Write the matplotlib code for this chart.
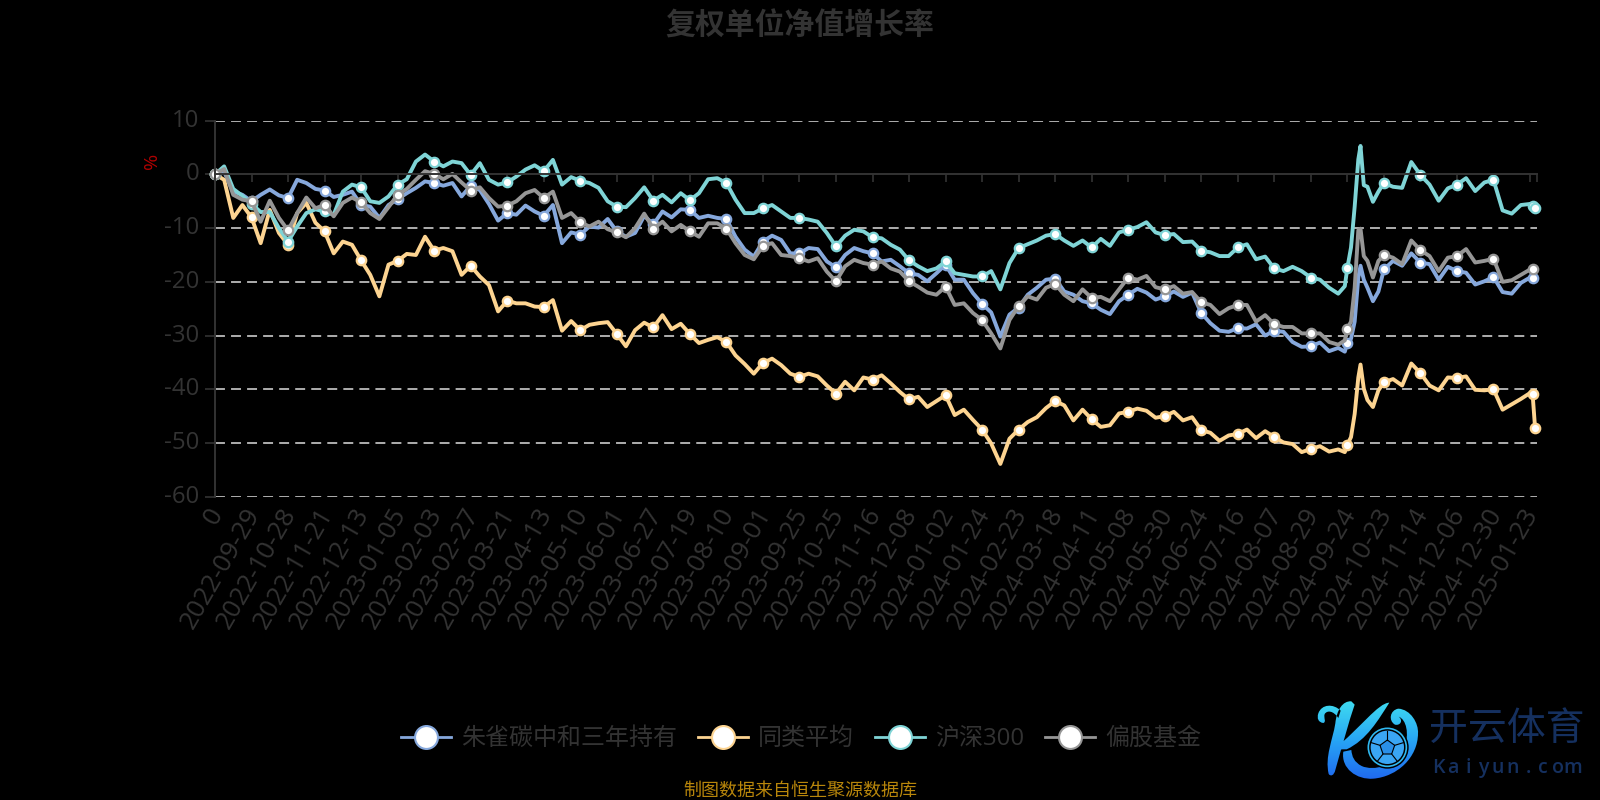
# coding:utf-8
import matplotlib
matplotlib.use("Agg")
import matplotlib.pyplot as plt
import numpy as np
from matplotlib.lines import Line2D
from matplotlib.patches import Circle, PathPatch, Polygon
from matplotlib.path import Path
from matplotlib.colors import LinearSegmentedColormap
from matplotlib.transforms import ScaledTranslation

plt.rcParams['font.family'] = ['Open Sans', 'Noto Sans CJK SC', 'DejaVu Sans']
plt.rcParams['axes.unicode_minus'] = False

tick_labels = ['0', '2022-09-29', '2022-10-28', '2022-11-21', '2022-12-13', '2023-01-05', '2023-02-03',
               '2023-02-27', '2023-03-21', '2023-04-13', '2023-05-10', '2023-06-01', '2023-06-27',
               '2023-07-19', '2023-08-10', '2023-09-01', '2023-09-25', '2023-10-25', '2023-11-16',
               '2023-12-08', '2024-01-02', '2024-01-24', '2024-02-23', '2024-03-18', '2024-04-11',
               '2024-05-08', '2024-05-30', '2024-06-24', '2024-07-16', '2024-08-07', '2024-08-29',
               '2024-09-24', '2024-10-23', '2024-11-14', '2024-12-06', '2024-12-30', '2025-01-23']
y_ticks = [10, 0, -10, -20, -30, -40, -50, -60]
series_names = ['朱雀碳中和三年持有', '同类平均', '沪深300', '偏股基金']

# 横轴位置，单位是一个刻度间隔，9月底的急涨处取得密一些
x_pos = np.concatenate([np.arange(0, 31, 0.25), [30.93, 31, 31.1, 31.2, 31.3, 31.36, 31.45, 31.55, 31.7, 31.85],
                        np.arange(32, 36, 0.25), [36, 36.07, 36.14]])

# 每行对应一个刻度
fund = [0, 0.5, -3.2, -3.8,
        -5, -3.8, -2.8, -3.9,
        -4.4, -1, -1.6, -2.7,
        -3, -4.2, -3.8, -3.2,
        -5.7, -6, -8.1, -5.7,
        -4.6, -3.5, -2.5, -1.3,
        -1.6, -2.1, -1.6, -4.1,
        -2.1, -2.9, -5.5, -8.6,
        -7.2, -7.5, -5.8, -6.9,
        -7.7, -5.7, -12.8, -10.8,
        -11.2, -9.7, -9.9, -8.3,
        -10.6, -11.6, -10.9, -7.7,
        -9.3, -6.9, -8, -6.5,
        -6.6, -8.1, -7.7, -8.1,
        -8.3, -11.6, -14, -15.3,
        -12.5, -11.4, -12.2, -14.7,
        -14.7, -13.7, -13.9, -16.2,
        -17.3, -15, -13.7, -14.3,
        -14.7, -16.2, -15.9, -17.1,
        -18.4, -18.7, -19.9, -18.4,
        -16.8, -19.6, -19.6, -22.1,
        -24.1, -25.7, -30.2, -26.1,
        -24.8, -22.4, -21.1, -19.6,
        -19.4, -21.8, -22.4, -23.6,
        -24, -25.2, -26, -23.6,
        -22.4, -21.3, -22, -23.3,
        -22.7, -21.8, -22.8, -22,
        -25.8, -27.7, -29.1, -29.3,
        -28.6, -28.7, -27.9, -30,
        -29.1, -29.3, -31.2, -32.1,
        -32, -31.3, -32.9, -32.3,
        -33,
        -31.3, -30.6, -27.4, -19.2, -17, -19.6, -21.1, -23.6, -21.8,
        -17.7, -16.1, -17, -14.7,
        -16.4, -16.7, -19.6, -17.2,
        -18, -18.3, -20.5, -19.9,
        -19.1, -21.9, -22.2, -20.2,
        -19.2, -19.2, np.nan]
peer_avg = [0, -1, -8.1, -5.7,
            -8, -12.8, -6.6, -10.9,
            -13.1, -7.2, -5.3, -9,
            -10.6, -14.7, -12.5, -13.1,
            -16, -18.7, -22.7, -16.8,
            -16.1, -14.8, -15, -11.6,
            -14.2, -13.7, -14.3, -18.7,
            -17, -19, -20.6, -25.5,
            -23.5, -24, -24, -24.6,
            -24.7, -23.4, -29.1, -27.3,
            -29, -28, -27.7, -27.5,
            -29.7, -32, -29, -27.6,
            -28.5, -26.2, -28.8, -27.8,
            -29.7, -31.4, -30.8, -30.3,
            -31.2, -33.7, -35.3, -37.1,
            -35.1, -34.3, -35.5, -37.1,
            -37.7, -37.1, -37.6, -39.3,
            -40.8, -38.6, -40.2, -37.8,
            -38.2, -37.4, -38.9, -40.5,
            -41.9, -41.4, -43.3, -42.2,
            -41.1, -44.8, -43.8, -45.7,
            -47.5, -50.1, -53.9, -49.2,
            -47.5, -46.1, -45.2, -43.5,
            -42.2, -43, -45.8, -43.8,
            -45.6, -47, -46.7, -44.5,
            -44.2, -43.6, -44, -45.3,
            -45, -44.2, -45.8, -45.2,
            -47.6, -48.1, -49.6, -48.6,
            -48.3, -47.5, -49.1, -47.8,
            -48.9, -49.9, -50.2, -51.7,
            -51.1, -50.6, -51.6, -51.2,
            -51.7,
            -50.3, -48.9, -44.6, -37.8, -35.4, -39.9, -42, -43.3, -40.2,
            -38.7, -38.1, -39.3, -35.2,
            -37, -39.3, -40.2, -37.8,
            -37.9, -37.6, -40.1, -40.2,
            -40, -43.8, -42.8, -41.8,
            -40.7, -40.8, -47.3]
csi300 = [0, 1.5, -2.7, -4,
          -5.5, -7, -7, -10,
          -12.5, -9.7, -7.2, -6.5,
          -6.9, -7.5, -3.2, -1.9,
          -2.4, -5, -5.3, -4.1,
          -1.9, -0.9, 2.4, 3.7,
          2.4, 1.5, 2.4, 2.1,
          -0.1, 2.1, -1, -1.9,
          -1.5, -0.4, 0.9, 1.7,
          0.6, 2.7, -1.9, -0.5,
          -1.2, -1.6, -2.5, -5,
          -6, -6.1, -4.4, -2.4,
          -4.9, -3.8, -5.2, -3.5,
          -4.8, -3.5, -0.9, -0.7,
          -1.6, -4.7, -7.2, -7.2,
          -6.3, -5.7, -6.9, -8.1,
          -8.1, -8.4, -8.8, -10.9,
          -13.4, -11.4, -10.3, -10.6,
          -11.7, -11.9, -13.1, -14,
          -16, -17.1, -18, -17.5,
          -16.2, -18.4, -18.7, -19,
          -19, -18, -21.4, -16.5,
          -13.7, -13, -12.3, -11.4,
          -11.1, -12.3, -13.3, -12.3,
          -13.6, -12, -13.3, -10.8,
          -10.3, -9.8, -8.9, -10.8,
          -11.3, -11.1, -12.6, -12.5,
          -14.2, -14.5, -15.2, -15.2,
          -13.6, -13, -15.8, -15.3,
          -17.5, -18, -17.2, -18,
          -19.2, -19.6, -21.1, -22.2,
          -20.8,
          -17.4, -13.6, -6, 2.8, 5.3, -2, -2.3, -5.1, -3.2,
          -1.6, -2.3, -2.5, 2.3,
          -0.1, -1.9, -4.9, -2.6,
          -1.9, -0.7, -3.1, -1.5,
          -1, -6.7, -7.3, -5.7,
          -5.5, -5.9, -6.2]
equity_funds = [0, 1, -3.8, -4.7,
                -5, -8.8, -4.9, -8.1,
                -10.4, -7.2, -4.3, -6.3,
                -5.7, -7.8, -5.3, -4.3,
                -5.2, -7.2, -8.3, -6.1,
                -3.8, -2.7, -1, 0.6,
                0.1, -0.9, 0.1, -1.5,
                -3, -2.4, -4.4, -6,
                -5.8, -5, -3.5, -2.9,
                -4.4, -3.2, -8.1, -7.2,
                -8.9, -9.7, -8.8, -10.2,
                -10.8, -11.7, -10, -7.3,
                -10.1, -8.8, -10.6, -9.4,
                -10.6, -11.6, -9.1, -9.1,
                -10.1, -12.8, -15, -15.8,
                -13.3, -12.8, -15, -15.2,
                -15.6, -16.2, -15.6, -18.1,
                -19.9, -17.1, -15.9, -16.5,
                -16.8, -16.2, -17.5, -18.1,
                -19.9, -20.9, -22, -22.4,
                -20.9, -24.3, -24, -25.8,
                -27.1, -29.6, -32.4, -27.1,
                -24.5, -22.7, -23.3, -21.1,
                -20.4, -22.4, -23.6, -21.4,
                -23, -22.8, -23.6, -21.4,
                -19.2, -19.6, -18.9, -21,
                -21.4, -20.8, -22.2, -21.9,
                -23.8, -24.3, -26, -24.9,
                -24.3, -24.3, -27.4, -26.2,
                -27.9, -28.4, -28.4, -29.6,
                -29.6, -29.6, -31.2, -31.7,
                -30.9,
                -28.7, -27.4, -21.1, -10.4, -10.1, -15.2, -16.1, -19.2, -16.1,
                -15, -15.5, -16.7, -12.3,
                -14.1, -15.2, -18, -15.5,
                -15.2, -13.9, -16.4, -16.1,
                -15.7, -20, -19.7, -18.7,
                -17.7, -17.7, np.nan]

all_series = [fund, peer_avg, csi300, equity_funds]
colors = ['#86a8dc', '#fdd491', '#7fd4d6', '#969696']
TEXT_COLOR = '#333333'


def px(x, y):
    # 像素坐标转成figure坐标
    return x / 1600, 1 - y / 800


fig = plt.figure(figsize=(16, 8), dpi=100, facecolor='black')
left, right_end = 215, 1537
tick_step = (1530 - 215) / 36
x_end = (right_end - left) / tick_step
ax = fig.add_axes([left / 1600, 1 - 496.7 / 800, (right_end - left) / 1600, (496.7 - 120.7) / 800])
ax.set_facecolor('black')
ax.set_xlim(0, x_end)
ax.set_ylim(-60, 10)

for name, values, color in zip(series_names, all_series, colors):
    values = np.array(values, dtype=float)
    # 每个刻度一个圆点，末尾的点跟着最后的数据
    marks = [i for i, p in enumerate(x_pos) if p == int(p) and p < 36]
    marks += [i for i in (len(x_pos) - 2, len(x_pos) - 1) if not np.isnan(values[i])]
    ax.plot(x_pos, values, color=color, lw=2.8, label=name, marker='o', markevery=marks, ms=6.8,
            mfc='white', mec=color, mew=1.6, solid_joinstyle='round', clip_on=False)

for side in ['top', 'right']:
    ax.spines[side].set_visible(False)
ax.spines['bottom'].set_position(('data', 0))
ax.spines['bottom'].set_color(TEXT_COLOR)
ax.spines['bottom'].set_linewidth(1.4)
ax.spines['left'].set_color(TEXT_COLOR)
ax.spines['left'].set_linewidth(1.4)

ax.set_yticks(y_ticks)
ax.set_xticks(range(len(tick_labels)))
ax.set_xticks([x_end], minor=True)
ax.set_xticklabels(tick_labels, rotation=60, ha='right', va='top', rotation_mode='anchor')
ax.tick_params(axis='x', which='both', direction='out', length=5.8, width=1.2, color=TEXT_COLOR)
ax.tick_params(axis='x', which='major', labelcolor=TEXT_COLOR, labelsize=18.7, pad=231)
ax.tick_params(axis='y', direction='out', length=7.2, width=1.2, color=TEXT_COLOR,
               labelcolor=TEXT_COLOR, labelsize=17.3, pad=4)
for lab in ax.get_xticklabels():
    lab.set_transform(lab.get_transform() + ScaledTranslation(-0.08, 0, fig.dpi_scale_trans))
for lab in ax.get_yticklabels():
    lab.set_transform(lab.get_transform() + ScaledTranslation(0, 0.03, fig.dpi_scale_trans))

ax.set_axisbelow(True)
ax.yaxis.grid(True, color='#dddddd', lw=1.1, linestyle=(0, (6.5, 4)))
for tick_value, line in zip(y_ticks, ax.get_ygridlines()):
    if tick_value == 0:
        line.set_visible(False)

fig.text(*px(800, 27), '复权单位净值增长率', color=TEXT_COLOR, fontsize=21.5, fontweight='bold',
         ha='center', va='center')
fig.text(*px(152, 161), '%', color='#b00000', fontsize=14, rotation=90, ha='center', va='center')
fig.text(*px(800, 791), '制图数据来自恒生聚源数据库', color='#b8860b', fontsize=13, ha='center', va='center')

handles = [Line2D([], [], color=c, lw=2, marker='o', ms=16.5, mfc='white', mec=c, mew=1.5) for c in colors]
fig.legend(handles, series_names, loc='center', bbox_to_anchor=px(801, 739), ncols=4, frameon=False,
           fontsize=17.3, labelcolor=TEXT_COLOR, handlelength=2.1, handletextpad=0.42, columnspacing=0.85)

# 右下角的logo
logo = fig.add_axes([1310 / 1600, 1 - 790 / 800, 120 / 1600, 100 / 800])
logo.set_xlim(0, 360)
logo.set_ylim(300, 0)
logo.axis('off')
M, C, L, Z = Path.MOVETO, Path.CURVE4, Path.LINETO, Path.CLOSEPOLY
logo_shapes = [
    ([(124, 34), (98, 32), (80, 60), (76, 100), (68, 150), (44, 200), (56, 252), (62, 260), (72, 257), (76, 240),
      (90, 190), (118, 90), (134, 44), (124, 34)], [M] + [C] * 12 + [Z]),
    ([(25, 70), (35, 42), (70, 40), (92, 62), (85, 84), (70, 62), (52, 60), (44, 72), (40, 85), (50, 95), (40, 99),
      (25, 97), (20, 85), (25, 70), (25, 70)], [M, C, C, C, L, C, C, C, C, C, C, C, C, C, Z]),
    ([(238, 38), (205, 38), (150, 115), (72, 178), (110, 178), (170, 150), (205, 90), (238, 38), (238, 38)],
     [M, C, C, C, L, C, C, C, Z]),
    ([(100, 185), (92, 235), (140, 270), (190, 266), (262, 260), (324, 202), (324, 130), (326, 100), (302, 58),
      (265, 56), (240, 60), (234, 92), (255, 104), (272, 108), (280, 90), (266, 80), (288, 88), (300, 130),
      (282, 178), (258, 228), (190, 244), (155, 228), (132, 216), (126, 200), (124, 180), (100, 185)],
     [M] + [C] * 24 + [Z]),
]
logo_verts, logo_codes = [], []
for verts, codes in logo_shapes:
    logo_verts += verts
    logo_codes += codes
logo_cmap = LinearSegmentedColormap.from_list('logo', ['#3fdcf0', '#27a4f5', '#1f66ee'])
img = logo.imshow(np.linspace(0, 1, 64).reshape(-1, 1), cmap=logo_cmap, extent=(0, 360, 275, 30), aspect='auto')
clip = PathPatch(Path(logo_verts, logo_codes), transform=logo.transData, fc='none', ec='none')
logo.add_patch(clip)
img.set_clip_path(clip)
logo.set_xlim(0, 360)
logo.set_ylim(300, 0)
logo.add_patch(Circle((232, 172), 64, fc='black', ec='none'))
logo.add_patch(Circle((232, 172), 57, fc='black', ec='#2fb8f0', lw=1.2))
logo.add_patch(Circle((232, 172), 50, fc='#3aa6f4', ec='none'))
logo.add_patch(Polygon([(232, 150), (254, 166), (245, 192), (219, 192), (210, 166)], fc='#2a8fe8', ec='black', lw=0.8))
for a, b in [((232, 150), (232, 124)), ((254, 166), (280, 158)), ((245, 192), (262, 214)),
             ((219, 192), (202, 214)), ((210, 166), (184, 158))]:
    logo.plot(*zip(a, b), color='black', lw=0.8)

fig.text(*px(1507, 730), '开云体育', color='#15305f', fontsize=28, fontweight='medium', ha='center', va='center')
for i, ch in enumerate('Kaiyun.com'):
    fig.text(*px(1438 + i * 15, 768), ch, color='#15305f', fontsize=14, fontweight='semibold', ha='center', va='center')

fig.savefig('out.png', dpi=100, facecolor='black')
